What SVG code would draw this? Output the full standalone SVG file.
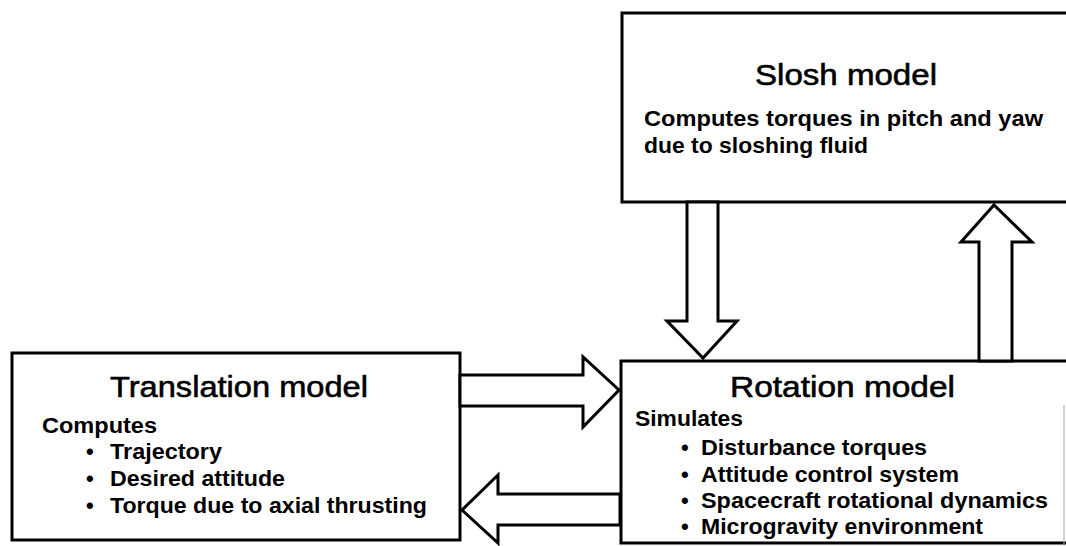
<svg xmlns="http://www.w3.org/2000/svg" width="1066" height="546" viewBox="0 0 1066 546">
<style>
.box{fill:#fff;stroke:#000;stroke-width:3}
.arr{fill:#fff;stroke:#000;stroke-width:3;stroke-linejoin:miter}
.h{font-family:"Liberation Sans",Arial,sans-serif;font-size:30px;fill:#000;stroke:#000;stroke-width:0.6}
.b{font-family:"Liberation Sans",Arial,sans-serif;font-size:22px;font-weight:bold;fill:#000}
</style>
<rect width="1066" height="546" fill="#fff"/>
<g id="slosh">
<rect class="box" x="622" y="13" width="460" height="189"/>
<text class="h" x="755" y="85" textLength="182" lengthAdjust="spacingAndGlyphs">Slosh model</text>
<text class="b" x="644" y="126" textLength="399" lengthAdjust="spacingAndGlyphs">Computes torques in pitch and yaw</text>
<text class="b" x="644" y="153" textLength="224" lengthAdjust="spacingAndGlyphs">due to sloshing fluid</text>
</g>
<g id="translation">
<rect class="box" x="12" y="353" width="448" height="187"/>
<text class="h" x="110" y="397" textLength="258" lengthAdjust="spacingAndGlyphs">Translation model</text>
<text class="b" x="42" y="433" textLength="115" lengthAdjust="spacingAndGlyphs">Computes</text>
<text class="b" x="86" y="459">•</text>
<text class="b" x="110" y="459" textLength="112" lengthAdjust="spacingAndGlyphs">Trajectory</text>
<text class="b" x="86" y="486">•</text>
<text class="b" x="110" y="486" textLength="175" lengthAdjust="spacingAndGlyphs">Desired attitude</text>
<text class="b" x="86" y="513">•</text>
<text class="b" x="110" y="513" textLength="317" lengthAdjust="spacingAndGlyphs">Torque due to axial thrusting</text>
</g>
<g id="rotation">
<rect class="box" x="621" y="361" width="460" height="182"/>
<line x1="1064" y1="405" x2="1064" y2="546" stroke="#aaa" stroke-width="1"/>
<text class="h" x="730" y="397" textLength="225" lengthAdjust="spacingAndGlyphs">Rotation model</text>
<text class="b" x="635" y="426" textLength="108" lengthAdjust="spacingAndGlyphs">Simulates</text>
<text class="b" x="681" y="455">•</text>
<text class="b" x="701" y="455" textLength="226" lengthAdjust="spacingAndGlyphs">Disturbance torques</text>
<text class="b" x="681" y="482">•</text>
<text class="b" x="701" y="482" textLength="258" lengthAdjust="spacingAndGlyphs">Attitude control system</text>
<text class="b" x="681" y="508">•</text>
<text class="b" x="701" y="508" textLength="347" lengthAdjust="spacingAndGlyphs">Spacecraft rotational dynamics</text>
<text class="b" x="681" y="534">•</text>
<text class="b" x="701" y="534" textLength="282" lengthAdjust="spacingAndGlyphs">Microgravity environment</text>
</g>
<g id="connectors">
<polygon class="arr" points="460,375 583,375 583,357 619,390 583,427 583,406 460,406"/>
<polygon class="arr" points="620,494 498,494 498,475 462,510 498,543 498,525 620,525"/>
<polygon class="arr" points="687,202 718,202 718,321 737,321 703,358 667,321 687,321"/>
<polygon class="arr" points="979,361 1012,361 1012,242 1032,242 994,205 961,242 979,242"/>
</g>
</svg>
